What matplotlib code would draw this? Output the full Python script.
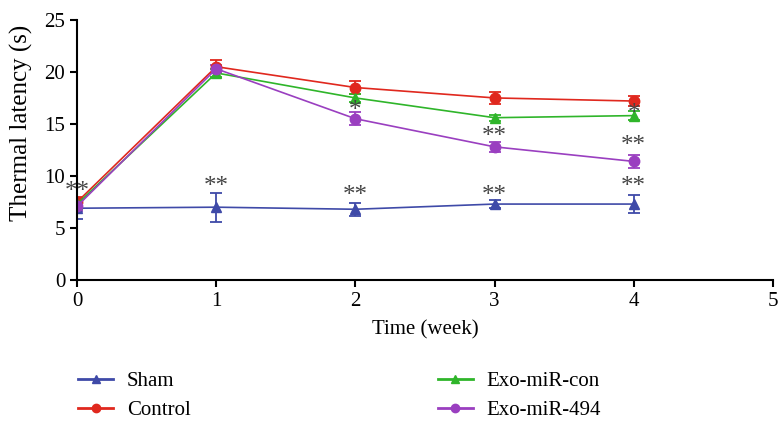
import matplotlib.pyplot as plt
from matplotlib.lines import Line2D

# Data
weeks = [0, 1, 2, 3, 4]

sham = [6.9, 7.0, 6.8, 7.3, 7.3]
sham_err = [1.0, 1.4, 0.6, 0.4, 0.9]

control = [7.5, 20.5, 18.5, 17.5, 17.2]
control_err = [0.5, 0.6, 0.6, 0.6, 0.5]

exo_con = [7.3, 19.9, 17.5, 15.6, 15.8]
exo_con_err = [0.4, 0.4, 0.4, 0.3, 0.4]

exo_494 = [7.1, 20.3, 15.5, 12.8, 11.4]
exo_494_err = [0.5, 0.4, 0.6, 0.5, 0.6]

# significance marks: centre of the asterisks (x, y, text)
stars_x = [0, 1, 2, 2, 3, 3, 4, 4, 4]
stars_y = [8.8, 9.3, 8.4, 16.6, 14.1, 8.4, 16.3, 13.2, 9.3]
stars_txt = ["**", "**", "**", "*", "**", "**", "*", "**", "**"]

plt.rcParams['font.family'] = ['Liberation Serif', 'DejaVu Serif']

fig = plt.figure(figsize=(7.79, 4.23), dpi=100)
ax = fig.add_axes([0.099, 0.338, 0.893, 0.615])

series = [
    ("Sham", sham, sham_err, "#3f4aa8", "^"),
    ("Control", control, control_err, "#e0281e", "o"),
    ("Exo-miR-con", exo_con, exo_con_err, "#2fb52a", "^"),
    ("Exo-miR-494", exo_494, exo_494_err, "#9a3fc0", "o"),
]

handles = {}
for name, vals, err, col, mk in series:
    ax.errorbar(weeks, vals, yerr=err, color=col, marker=mk, markersize=7.5,
                lw=1.2, capsize=4, elinewidth=1.3, capthick=1.3)
    # legend handle: line with marker, no error bar
    handles[name] = Line2D([], [], color=col, marker=mk, markersize=6, lw=2)

# asterisks (grey, centred on the given y)
fs_star = 18
for x, y, t in zip(stars_x, stars_y, stars_txt):
    ax.annotate(t, (x, y), xytext=(0, -0.38 * fs_star), textcoords='offset points',
                ha='center', va='baseline', fontsize=fs_star, color='#444444')

ax.set_xlim(0, 5)
ax.set_ylim(0, 25)
ax.set_xticks(range(0, 6))
ax.set_yticks(range(0, 26, 5))
ax.spines['top'].set_visible(False)
ax.spines['right'].set_visible(False)
ax.spines['left'].set_linewidth(1.5)
ax.spines['bottom'].set_linewidth(1.5)
ax.tick_params(direction='out', length=5, width=1.5, labelsize=15)
ax.set_xlabel("Time (week)", fontsize=15, labelpad=7)
ax.set_ylabel("Thermal latency (s)", fontsize=18)
ax.yaxis.set_label_coords(-0.064, 0.605)

# legend below: column 1 Sham/Control, column 2 Exo-miR-con/Exo-miR-494
order = ["Sham", "Control", "Exo-miR-con", "Exo-miR-494"]
fig.legend([handles[n] for n in order], order, ncol=2, frameon=False,
           loc='center left', bbox_to_anchor=(0.076, 0.064), fontsize=15,
           columnspacing=11.85, handlelength=1.7, handletextpad=0.65,
           labelspacing=0.45)

fig.savefig("out.png", dpi=100)
